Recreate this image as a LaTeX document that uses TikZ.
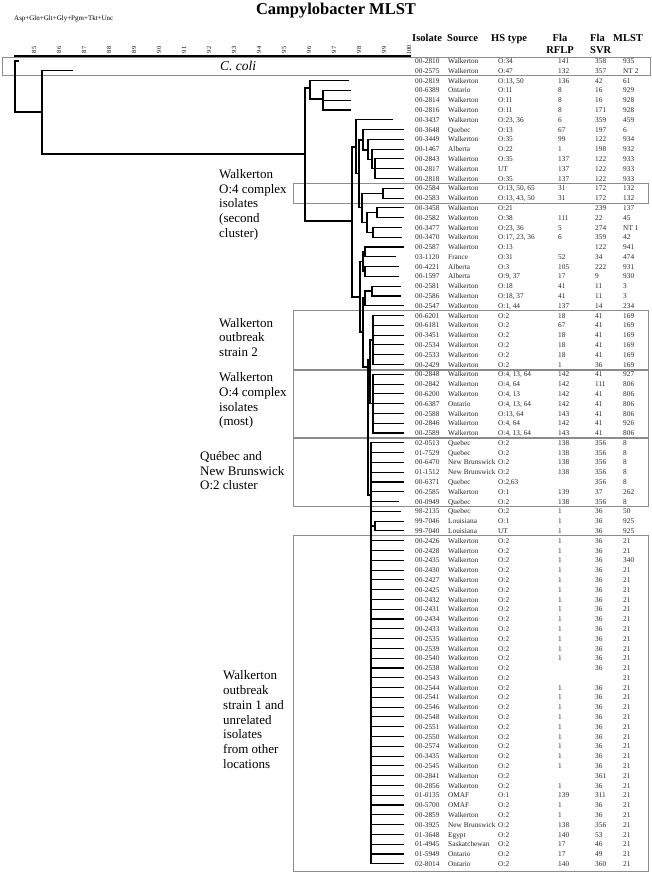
\documentclass[tikz,border=0pt]{standalone}
\usepackage{fontspec}
\setmainfont{Liberation Serif}
\begin{document}
\begin{tikzpicture}[x=1pt,y=-1pt,
  tree/.style={line width=1.1pt, line cap=rect, line join=miter},
  gbox/.style={draw=black!45, line width=0.9pt},
  cell/.style={anchor=base west, inner sep=0pt, font=\fontsize{7.3}{9}\selectfont, text=black!85},
  hdr/.style={inner sep=0pt, font=\fontsize{10.5}{12}\selectfont\bfseries},
  grp/.style={anchor=base west, inner sep=0pt, font=\fontsize{13}{15}\selectfont},
  tick/.style={rotate=90, inner sep=0pt, font=\fontsize{6.3}{7}\selectfont}]
\pgfmathdeclarefunction{ry}{1}{\pgfmathparse{61+(#1-1)*9.79}}
\useasboundingbox (0,0) rectangle (652,875);
\fill[white] (0,0) rectangle (652,875);

% title and scale
\node[font=\fontsize{16.5}{19}\selectfont\bfseries, inner sep=0pt] (title) at (336,11) {Campylobacter MLST};
\node[anchor=west, font=\fontsize{7}{8}\selectfont, inner sep=0pt] (sub) at (14,19) {Asp+Gln+Glt+Gly+Pgm+Tkt+Unc};
\draw[line width=1.4pt] (14,56) -- (411,56);
\foreach \k in {85,...,100} {\node[tick] (t\k) at ({34+(\k-85)*25},50) {\k};}

% headers
\node[hdr, anchor=base west] (hiso) at (412,42) {Isolate};
\node[hdr, anchor=base west] (hsrc) at (447,42) {Source};
\node[hdr, anchor=base west] (hhs) at (491,42) {HS type};
\node[hdr, anchor=base] (hfa) at (560,42) {Fla};
\node[hdr, anchor=base] (hfb) at (560,53) {RFLP};
\node[hdr, anchor=base west] (hsa) at (590,42) {Fla};
\node[hdr, anchor=base west] (hsb) at (590,53) {SVR};
\node[hdr, anchor=base west] (hml) at (613,42) {MLST};

% boxes
\draw[gbox] (2,57) rectangle (650,75.2);
\draw[gbox] (293,183.4) rectangle (648,203);
\draw[gbox] (293,310.6) rectangle (648,369.2);
\draw[gbox] (293,370.2) rectangle (648,437.6);
\draw[gbox] (293,438.6) rectangle (648,506.5);
\draw[gbox] (293,535.8) rectangle (648,871);

\node[font=\fontsize{13.5}{15}\selectfont\itshape, inner sep=0pt] (ccoli) at (238,66) {C. coli};

% group labels
\node[grp] (ga1) at (219,178) {Walkerton};
\node[grp] (ga2) at (219,193) {O:4 complex};
\node[grp] (ga3) at (219,207.5) {isolates};
\node[grp] (ga4) at (219,222) {(second};
\node[grp] (ga5) at (219,237) {cluster)};
\node[grp] (gb1) at (219,327) {Walkerton};
\node[grp] (gb2) at (219,341.5) {outbreak};
\node[grp] (gb3) at (219,356) {strain 2};
\node[grp] (gc1) at (219,381) {Walkerton};
\node[grp] (gc2) at (219,396) {O:4 complex};
\node[grp] (gc3) at (219,411) {isolates};
\node[grp] (gc4) at (219,425) {(most)};
\node[grp] (gd1) at (200,460) {Québec and};
\node[grp] (gd2) at (200,475) {New Brunswick};
\node[grp] (gd3) at (200,489) {O:2 cluster};
\node[grp] (ge1) at (223,679) {Walkerton};
\node[grp] (ge2) at (223,694) {outbreak};
\node[grp] (ge3) at (223,709) {strain 1 and};
\node[grp] (ge4) at (223,724) {unrelated};
\node[grp] (ge5) at (223,738) {isolates};
\node[grp] (ge6) at (223,753) {from other};
\node[grp] (ge7) at (223,768) {locations};

% table
\foreach \n/\a/\b/\c/\d/\e/\f in {
1/00-2810/Walkerton/O:34/141/358/935,
2/00-2575/Walkerton/O:47/132/357/NT 2,
3/00-2819/Walkerton/{O:13, 50}/136/42/61,
4/00-6389/Ontario/O:11/8/16/929,
5/00-2814/Walkerton/O:11/8/16/928,
6/00-2816/Walkerton/O:11/8/171/928,
7/00-3437/Walkerton/{O:23, 36}/6/359/459,
8/00-3648/Quebec/O:13/67/197/6,
9/00-3449/Walkerton/O:35/99/122/934,
10/00-1467/Alberta/O:22/1/198/932,
11/00-2843/Walkerton/O:35/137/122/933,
12/00-2817/Walkerton/UT/137/122/933,
13/00-2818/Walkerton/O:35/137/122/933,
14/00-2584/Walkerton/{O:13, 50, 65}/31/172/132,
15/00-2583/Walkerton/{O:13, 43, 50}/31/172/132,
16/00-3458/Walkerton/O:21/{}/239/137,
17/00-2582/Walkerton/O:38/111/22/45,
18/00-3477/Walkerton/{O:23, 36}/5/274/NT 1,
19/00-3470/Walkerton/{O:17, 23, 36}/6/359/42,
20/00-2587/Walkerton/O:13/{}/122/941,
21/03-1120/France/O:31/52/34/474,
22/00-4221/Alberta/O:3/105/222/931,
23/00-1597/Alberta/{O:9, 37}/17/9/930,
24/00-2581/Walkerton/O:18/41/11/3,
25/00-2586/Walkerton/{O:18, 37}/41/11/3,
26/00-2547/Walkerton/{O:1, 44}/137/14/234,
27/00-6201/Walkerton/O:2/18/41/169,
28/00-6181/Walkerton/O:2/67/41/169,
29/00-3451/Walkerton/O:2/18/41/169,
30/00-2534/Walkerton/O:2/18/41/169,
31/00-2533/Walkerton/O:2/18/41/169,
32/00-2429/Walkerton/O:2/1/36/169,
33/00-2848/Walkerton/{O:4, 13, 64}/142/41/927,
34/00-2842/Walkerton/{O:4, 64}/142/111/806,
35/00-6200/Walkerton/{O:4, 13}/142/41/806,
36/00-6387/Ontario/{O:4, 13, 64}/142/41/806,
37/00-2588/Walkerton/{O:13, 64}/143/41/806,
38/00-2846/Walkerton/{O:4, 64}/142/41/926,
39/00-2589/Walkerton/{O:4, 13, 64}/143/41/806,
40/02-0513/Quebec/O:2/138/356/8,
41/01-7529/Quebec/O:2/138/356/8,
42/00-6470/New Brunswick/O:2/138/356/8,
43/01-1512/New Brunswick/O:2/138/356/8,
44/00-6371/Quebec/{O:2,63}/{}/356/8,
45/00-2585/Walkerton/O:1/139/37/262,
46/00-0949/Quebec/O:2/138/356/8,
47/98-2135/Quebec/O:2/1/36/50,
48/99-7046/Louisiana/O:1/1/36/925,
49/99-7040/Louisiana/UT/1/36/925,
50/00-2426/Walkerton/O:2/1/36/21,
51/00-2428/Walkerton/O:2/1/36/21,
52/00-2435/Walkerton/O:2/1/36/340,
53/00-2430/Walkerton/O:2/1/36/21,
54/00-2427/Walkerton/O:2/1/36/21,
55/00-2425/Walkerton/O:2/1/36/21,
56/00-2432/Walkerton/O:2/1/36/21,
57/00-2431/Walkerton/O:2/1/36/21,
58/00-2434/Walkerton/O:2/1/36/21,
59/00-2433/Walkerton/O:2/1/36/21,
60/00-2535/Walkerton/O:2/1/36/21,
61/00-2539/Walkerton/O:2/1/36/21,
62/00-2540/Walkerton/O:2/1/36/21,
63/00-2538/Walkerton/O:2/{}/36/21,
64/00-2543/Walkerton/O:2/{}/{}/21,
65/00-2544/Walkerton/O:2/1/36/21,
66/00-2541/Walkerton/O:2/1/36/21,
67/00-2546/Walkerton/O:2/1/36/21,
68/00-2548/Walkerton/O:2/1/36/21,
69/00-2551/Walkerton/O:2/1/36/21,
70/00-2550/Walkerton/O:2/1/36/21,
71/00-2574/Walkerton/O:2/1/36/21,
72/00-3435/Walkerton/O:2/1/36/21,
73/00-2545/Walkerton/O:2/1/36/21,
74/00-2841/Walkerton/O:2/{}/361/21,
75/00-2856/Walkerton/O:2/1/36/21,
76/01-0135/OMAF/O:1/139/311/21,
77/00-5700/OMAF/O:2/1/36/21,
78/00-2859/Walkerton/O:2/1/36/21,
79/00-3925/New Brunswick/O:2/138/356/21,
80/01-3648/Egypt/O:2/140/53/21,
81/01-4945/Saskatchewan/O:2/17/46/21,
82/01-5949/Ontario/O:2/17/49/21,
83/02-8014/Ontario/O:2/140/360/21}{
  \pgfmathsetmacro\yy{ry(\n)+2.6}
  \node[cell] (iso\n) at (415,\yy) {\a};
  \node[cell] (src\n) at (448,\yy) {\b};
  \node[cell] (hs\n) at (498,\yy) {\c};
  \node[cell] (rf\n) at (558,\yy) {\d};
  \node[cell] (sv\n) at (595,\yy) {\e};
  \node[cell] (ml\n) at (623,\yy) {\f};
}

% dendrogram
\draw[tree] (18,61) -- (15,61) -- (15,112) -- (42,112);
\draw[tree] (72,{ry(2)}) -- (42,{ry(2)}) -- (42,154) -- (305,154);
\draw[tree] (310,88) -- (305,88) -- (305,221) -- (352,221);
\draw[tree] (348,{ry(3)}) -- (310,{ry(3)}) -- (310,99) -- (323,99);
\draw[tree] (323,{ry(4)}) -- (323,{ry(6)});
\foreach \r in {4,5,6} {\draw[tree] (323,{ry(\r)}) -- (350,{ry(\r)});}
\draw[tree] (356,147) -- (352,147) -- (352,297) -- (360,297);
\draw[tree] (392,{ry(7)}) -- (356,{ry(7)}) -- (356,173.5) -- (359,173.5);
\draw[tree] (363,140) -- (359,140) -- (359,207.5) -- (362,207.5);
\draw[tree] (403,{ry(8)}) -- (363,{ry(8)}) -- (363,150) -- (368,150);
\draw[tree] (403,{ry(9)}) -- (368,{ry(9)}) -- (368,159.5) -- (372,159.5);
\draw[tree] (403,{ry(10)}) -- (372,{ry(10)}) -- (372,168.7) -- (375,168.7);
\draw[tree] (375,{ry(11)}) -- (375,{ry(13)});
\foreach \r in {11,12,13} {\draw[tree] (375,{ry(\r)}) -- (403,{ry(\r)});}
% rows 14-19
\draw[tree] (383,193.2) -- (362,193.2) -- (362,222.5) -- (367,222.5);
\draw[tree] (383,{ry(14)}) -- (383,{ry(15)});
\foreach \r in {14,15} {\draw[tree] (383,{ry(\r)}) -- (403,{ry(\r)});}
\draw[tree] (377,212.7) -- (367,212.7) -- (367,232.3) -- (373,232.3);
\draw[tree] (377,{ry(16)}) -- (377,{ry(17)});
\foreach \r in {16,17} {\draw[tree] (377,{ry(\r)}) -- (403,{ry(\r)});}
\draw[tree] (373,{ry(18)}) -- (373,{ry(19)});
\foreach \r in {18,19} {\draw[tree] (373,{ry(\r)}) -- (401,{ry(\r)});}
% rows 20-26
\draw[tree] (363,261.7) -- (360,261.7) -- (360,332) -- (363,332);
\draw[tree] (365,251.9) -- (363,251.9) -- (363,271.5) -- (365,271.5);
\draw[tree] (365,{ry(20)}) -- (365,{ry(21)});
\draw[tree] (365,{ry(20)}) -- (403,{ry(20)});
\draw[tree] (365,{ry(21)}) -- (395,{ry(21)});
\draw[tree] (365,{ry(22)}) -- (365,{ry(23)});
\foreach \r in {22,23} {\draw[tree] (365,{ry(\r)}) -- (398,{ry(\r)});}
\draw[tree] (365,298) -- (363,298) -- (363,367) -- (368,367);
\draw[tree] (372,291) -- (365,291) -- (365,{ry(26)}) -- (403,{ry(26)});
\draw[tree] (372,{ry(24)}) -- (372,{ry(25)});
\foreach \r in {24,25} {\draw[tree] (372,{ry(\r)}) -- (400,{ry(\r)});}
% rows 27-39
\draw[tree] (373,{ry(27)}) -- (373,{ry(32)});
\foreach \r in {27,...,32} {\draw[tree] (373,{ry(\r)}) -- (403,{ry(\r)});}
\draw[tree] (373,{ry(33)}) -- (373,{ry(39)});
\foreach \r in {33,...,39} {\draw[tree] (373,{ry(\r)}) -- (403,{ry(\r)});}
\draw[tree] (373,340) -- (370,340) -- (370,403.6) -- (373,403.6);
\draw[tree] (370,372) -- (368,372);
\draw[tree] (368,360) -- (368,495) -- (371,495);
% rows 40-83
\draw[tree] (371,{ry(40)}) -- (371,{ry(83)});
\foreach \r in {40,...,45} {\draw[tree] (371,{ry(\r)}) -- (403,{ry(\r)});}
\draw[tree] (371,{ry(46)}) -- (398,{ry(46)});
\draw[tree] (371,{ry(47)}) -- (400,{ry(47)});
\draw[tree] (371,526) -- (375,526);
\draw[tree] (375,{ry(48)}) -- (375,{ry(49)});
\foreach \r in {48,49} {\draw[tree] (375,{ry(\r)}) -- (403,{ry(\r)});}
\foreach \r in {50,...,83} {\draw[tree] (371,{ry(\r)}) -- (403,{ry(\r)});}
\end{tikzpicture}
\end{document}
